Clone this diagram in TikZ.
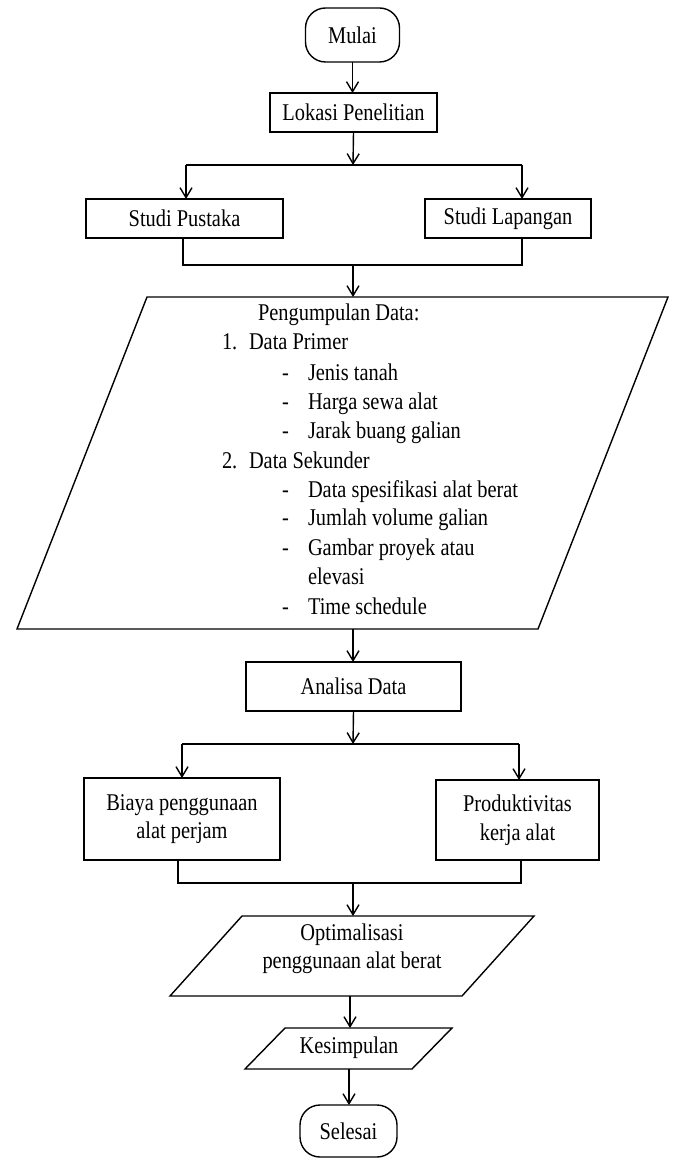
\documentclass[tikz,border=0pt]{standalone}
\usepackage{fontspec}
\setmainfont{Liberation Serif}[FakeStretch=0.85]
\usetikzlibrary{arrows.meta}
\begin{document}
\begin{tikzpicture}[x=1pt,y=-1pt,
  line width=1.4pt,
  every node/.style={font=\fontsize{24}{28.5}\selectfont},
  box/.style={draw, rectangle, inner sep=0pt, outer sep=0pt, align=center},
  term/.style={draw, rectangle, rounded corners=20pt, inner sep=0pt, outer sep=0pt},
  arr/.style={-{Straight Barb[length=10pt,width=12pt]}},
  txt/.style={anchor=base west, inner sep=0pt, outer sep=0pt}]
\useasboundingbox (0,0) rectangle (672,1158);

% terminals and boxes
\node[term, minimum width=94pt, minimum height=54pt] (mulai) at (352.5,35) {Mulai};
\node[box, minimum width=167pt, minimum height=39pt] (lokasi) at (353.5,112.5) {Lokasi Penelitian};
\node[box, minimum width=197pt, minimum height=39pt] (pustaka) at (184.5,218.5) {Studi Pustaka};
\node[box, minimum width=166pt, minimum height=39pt] (lapangan) at (508,218.5) {Studi Lapangan};
\node[box, minimum width=215pt, minimum height=49pt] (analisa) at (353.5,686.5) {Analisa Data};
\node[box, minimum width=196pt, minimum height=82pt] (biaya) at (182,819) {Biaya penggunaan\\alat perjam};
\node[box, minimum width=163pt, minimum height=80pt] (produk) at (517.5,820) {Produktivitas\\kerja alat};
\node[term, minimum width=97pt, minimum height=52pt] (selesai) at (348.5,1131) {Selesai};

% data input parallelogram
\draw (147,297) -- (668,297) -- (538,629) -- (17,629) -- cycle;
\coordinate (pdtop) at (353,297);
\coordinate (pdbot) at (353,629);
\node[txt] (pdh) at (258,320) {Pengumpulan Data:};
\node[txt] (n1) at (222,349) {1.};
\node[txt] (dp) at (249,349) {Data Primer};
\node[txt] (d1) at (282,380) {-};
\node[txt] (i1) at (308,380) {Jenis tanah};
\node[txt] (d2) at (282,409) {-};
\node[txt] (i2) at (308,409) {Harga sewa alat};
\node[txt] (d3) at (282,438) {-};
\node[txt] (i3) at (308,438) {Jarak buang galian};
\node[txt] (n2) at (222,468) {2.};
\node[txt] (dsk) at (249,468) {Data Sekunder};
\node[txt] (d4) at (282,497) {-};
\node[txt] (i4) at (308,497) {Data spesifikasi alat berat};
\node[txt] (d5) at (282,525) {-};
\node[txt] (i5) at (308,525) {Jumlah volume galian};
\node[txt] (d6) at (282,555) {-};
\node[txt] (i6) at (308,555) {Gambar proyek atau};
\node[txt] (i6b) at (308,584) {elevasi};
\node[txt] (d7) at (282,614) {-};
\node[txt] (i7) at (308,614) {Time schedule};

% optimalisasi parallelogram
\draw (242,916) -- (534,916) -- (462,996) -- (170,996) -- cycle;
\coordinate (optT) at (353,916);
\coordinate (optB) at (350,996);
\node[align=center, inner sep=0pt] (opt) at (352,949) {Optimalisasi\\penggunaan alat berat};

% kesimpulan parallelogram
\draw (285,1028) -- (452,1028) -- (412,1069) -- (245,1069) -- cycle;
\coordinate (kesT) at (350,1028);
\coordinate (kesB) at (349,1069);
\node[inner sep=0pt] (kes) at (349,1048) {Kesimpulan};

% junction / merge points
\coordinate (j1) at (353,165);
\coordinate (j1l) at (186,165);
\coordinate (j1r) at (522,165);
\coordinate (m1) at (353,265);
\coordinate (m1l) at (183,265);
\coordinate (m1r) at (522,265);
\coordinate (j2) at (353,744);
\coordinate (j2l) at (182,744);
\coordinate (j2r) at (519,744);
\coordinate (m2) at (353,883);
\coordinate (m2l) at (178,883);
\coordinate (m2r) at (521,883);

% connectors
\draw[arr] (mulai.south) -- (mulai.south |- lokasi.north);
\draw[arr] (lokasi.south) -- (j1);
\draw (j1l) -- (j1r);
\draw[arr] (j1l) -- (j1l |- pustaka.north);
\draw[arr] (j1r) -- (j1r |- lapangan.north);
\draw (m1l |- pustaka.south) -- (m1l) -- (m1r) -- (m1r |- lapangan.south);
\draw[arr] (m1) -- (pdtop);
\draw[arr] (pdbot) -- (pdbot |- analisa.north);
\draw[arr] (analisa.south) -- (j2);
\draw (j2l) -- (j2r);
\draw[arr] (j2l) -- (j2l |- biaya.north);
\draw[arr] (j2r) -- (j2r |- produk.north);
\draw (m2l |- biaya.south) -- (m2l) -- (m2r) -- (m2r |- produk.south);
\draw[arr] (m2) -- (optT);
\draw[arr] (optB) -- (kesT);
\draw[arr] (kesB) -- (kesB |- selesai.north);
\end{tikzpicture}
\end{document}
